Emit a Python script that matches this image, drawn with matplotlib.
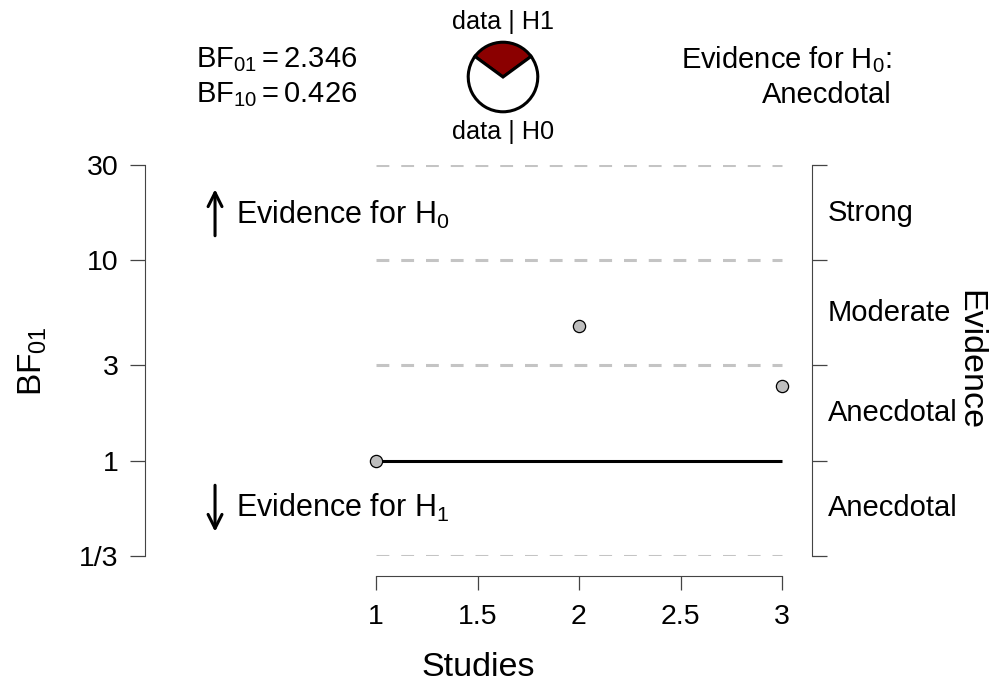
import numpy as np
import matplotlib
matplotlib.use("Agg")
import matplotlib.pyplot as plt

plt.rcParams['font.family'] = ['Liberation Sans', 'DejaVu Sans']
plt.rcParams['mathtext.fontset'] = 'custom'
plt.rcParams['mathtext.rm'] = 'Liberation Sans'
plt.rcParams['mathtext.it'] = 'Liberation Sans:italic'
plt.rcParams['mathtext.default'] = 'regular'

# data
studies = [1, 2, 3]
bf01_seq = [1.0, 4.7, 2.346]
bf01_final = 2.346
evidence_label = "Anecdotal"

y_ticks = [1/3, 1, 3, 10, 30]
y_ticklabels = ['1/3', '1', '3', '10', '30']
x_ticks = [1, 1.5, 2, 2.5, 3]
x_ticklabels = ['1', '1.5', '2', '2.5', '3']
grid_levels = [1/3, 3, 10, 30]
band_labels = ['Anecdotal', 'Anecdotal', 'Moderate', 'Strong']

W, H = 1000, 686
fig = plt.figure(figsize=(10, 6.86), dpi=100)

# main axes: pixel box x 145..812, y 165..556
ax = fig.add_axes([145 / W, (H - 556) / H, (812 - 145) / W, (556 - 165) / H])
ax.set_yscale('log')
ax.set_ylim(1/3, 30)
ax.set_xlim(1 - 231 / 203, 3 + 30 / 203)

ax.hlines(grid_levels, studies[0], studies[-1], colors='#C4C4C4',
          linewidth=2.2, linestyles=(0, (4.2, 3.9)))
ax.plot([studies[0], studies[-1]], [1, 1], color='black', linewidth=2.2,
        solid_capstyle='butt')
ax.plot(studies, bf01_seq, linestyle='none', marker='o', markersize=8.8,
        markerfacecolor='#BEBEBE', markeredgecolor='black',
        markeredgewidth=0.9, zorder=5, clip_on=False)

spine_col = '#444444'
for s in ['top', 'right']:
    ax.spines[s].set_visible(False)
ax.spines['left'].set_bounds(1/3, 30)
ax.spines['left'].set_color(spine_col)
ax.spines['bottom'].set_bounds(1, 3)
ax.spines['bottom'].set_position(('outward', 14.4))
ax.spines['bottom'].set_color(spine_col)

ax.set_yticks(y_ticks)
ax.set_yticklabels(y_ticklabels)
ax.yaxis.set_minor_locator(matplotlib.ticker.NullLocator())
ax.set_xticks(x_ticks)
ax.set_xticklabels(x_ticklabels)
ax.tick_params(axis='y', length=11, width=0.9, color=spine_col,
               labelsize=20.5, pad=8)
ax.tick_params(axis='x', length=10, width=0.9, color=spine_col,
               labelsize=20.5, pad=10)

# right axis with evidence categories
ax2 = ax.twinx()
ax2.set_yscale('log')
ax2.set_ylim(1/3, 30)
for s in ['top', 'left', 'bottom']:
    ax2.spines[s].set_visible(False)
ax2.spines['right'].set_bounds(1/3, 30)
ax2.spines['right'].set_color(spine_col)
ax2.set_yticks(y_ticks)
ax2.set_yticklabels([])
ax2.yaxis.set_minor_locator(matplotlib.ticker.NullLocator())
ax2.tick_params(axis='y', length=11, width=0.9, color=spine_col)

ytrans = ax.get_yaxis_transform()
for lo, hi, lab in zip(y_ticks[:-1], y_ticks[1:], band_labels):
    ax.text(1.024, np.sqrt(lo * hi), lab, transform=ytrans, fontsize=21,
            ha='left', va='center')
ax.text(1.237, 0.5, 'Evidence', transform=ax.transAxes, fontsize=24.5,
        rotation=-90, ha='center', va='center')

# arrows with evidence direction
ax.annotate('', xy=(0.105, 0.945), xytext=(0.105, 0.812),
            xycoords='axes fraction',
            arrowprops=dict(arrowstyle='->', lw=2.2, color='black',
                            mutation_scale=25))
ax.annotate('', xy=(0.105, 0.055), xytext=(0.105, 0.188),
            xycoords='axes fraction',
            arrowprops=dict(arrowstyle='->', lw=2.2, color='black',
                            mutation_scale=25))
ax.text(0.136, 0.872, 'Evidence for H$_0$', transform=ax.transAxes,
        fontsize=22, ha='left', va='center')
ax.text(0.136, 0.124, 'Evidence for H$_1$', transform=ax.transAxes,
        fontsize=22, ha='left', va='center')

# axis titles
fig.text(33 / W, (H - 361) / H, 'BF$_{01}$', fontsize=24, rotation=90,
         ha='center', va='center')
fig.text(478 / W, (H - 668) / H, 'Studies', fontsize=24.5,
         ha='center', va='center')

# top annotations
fig.text(196 / W, (H - 60) / H, 'BF$_{01}$$=$%.3f' % bf01_final,
         fontsize=21, ha='left', va='center')
fig.text(196 / W, (H - 95) / H, 'BF$_{10}$$=$%.3f' % (1 / bf01_final),
         fontsize=21, ha='left', va='center')
fig.text(892 / W, (H - 60) / H, 'Evidence for H$_0$:', fontsize=21,
         ha='right', va='center')
fig.text(892 / W, (H - 95) / H, evidence_label, fontsize=21,
         ha='right', va='center')

# pie of posterior model probabilities
p_h1 = 1 / (1 + bf01_final)
pax = fig.add_axes([(503 - 40) / W, (H - 77 - 40) / H, 80 / W, 80 / H])
pax.pie([p_h1, 1 - p_h1], colors=['#8B0000', 'white'],
        startangle=90 - p_h1 * 180, counterclock=True,
        wedgeprops=dict(edgecolor='black', linewidth=2.2))
pax.set_xlim(-1.15, 1.15)
pax.set_ylim(-1.15, 1.15)
pax.set_aspect('equal')
pax.axis('off')
fig.text(503 / W, (H - 22) / H, 'data | H1', fontsize=18.2,
         ha='center', va='center')
fig.text(503 / W, (H - 132) / H, 'data | H0', fontsize=18.2,
         ha='center', va='center')

fig.savefig('out.png', dpi=100)
